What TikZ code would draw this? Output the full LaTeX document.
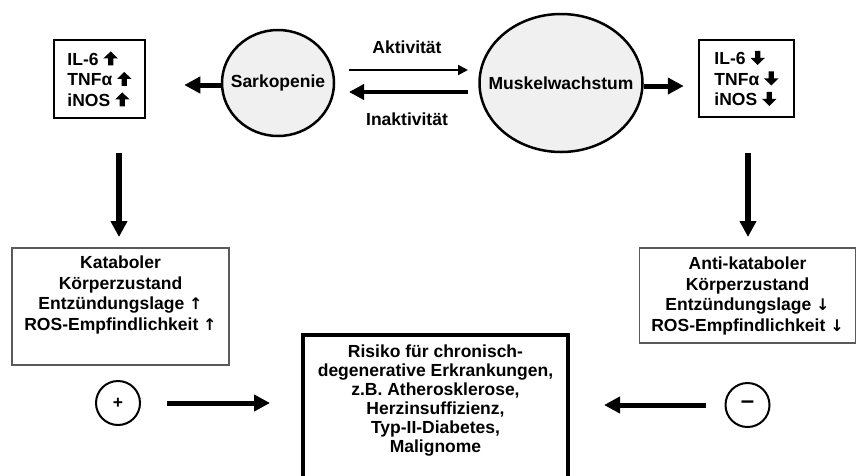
\documentclass[tikz,border=0pt]{standalone}
\usepackage{fontspec}
\setmainfont{Liberation Sans}
\newfontfamily\arrfont{DejaVu Sans}
\usetikzlibrary{shapes.geometric,arrows.meta}
\definecolor{fillgray}{HTML}{F0F0F0}
\definecolor{thingray}{HTML}{5A5A5A}
\newcommand{\blkup}{\tikz[baseline=0pt,x=1pt,y=1pt]\fill (-2.6,0) -- (-2.6,7) -- (-7.2,7) -- (0,14) -- (7.2,7) -- (2.6,7) -- (2.6,0) -- cycle;}
\newcommand{\blkdown}{\tikz[baseline=0pt,x=1pt,y=1pt]\fill (-2.6,14) -- (-2.6,7) -- (-7.2,7) -- (0,0) -- (7.2,7) -- (2.6,7) -- (2.6,14) -- cycle;}
\newcommand{\thinup}{{\arrfont\fontsize{16}{16}\selectfont ↑}}
\newcommand{\thindown}{{\arrfont\fontsize{16}{16}\selectfont ↓}}
\begin{document}
\begin{tikzpicture}[x=1pt,y=-1pt,
  every node/.style={font=\fontsize{17.5}{20.5}\selectfont\bfseries, inner sep=0pt},
  ell/.style={ellipse, draw, line width=2.5pt, fill=fillgray},
  smallbox/.style={draw, line width=2.5pt, align=left},
  thinbox/.style={draw=thingray, line width=1.3pt},
  bigarrow/.style={line width=5pt, -{Triangle[length=16pt,width=16pt]}},
  medarrow/.style={line width=4.5pt, -{Triangle[length=15pt,width=15pt]}},
  thinarrow/.style={line width=2pt, -{Triangle[length=10pt,width=10pt]}},
  signcircle/.style={circle, draw, line width=2pt, minimum size=44pt}
]
\useasboundingbox (0,0) rectangle (857,475);

% top row
\node[smallbox, minimum width=91pt, minimum height=78pt] (il1) at (99.5,79) {IL-6 \blkup\\TNFα \blkup\\iNOS \blkup};
\node[ell, minimum width=112pt, minimum height=106pt] (sark) at (278,83) {};
\node (sarktxt) at (sark.center) {Sarkopenie};
\node[ell, minimum width=163pt, minimum height=138pt] (musk) at (561,83) {};
\node (musktxt) at (musk.center) {Muskelwachstum};
\node[smallbox, minimum width=95pt, minimum height=77pt] (il2) at (746.5,78.5) {IL-6 \blkdown\\TNFα \blkdown\\iNOS \blkdown};

\node (akt) at (407,47) {Aktivität};
\node (inakt) at (407,119) {Inaktivität};

\coordinate (ak1) at (349,70);
\coordinate (ak2) at (468,70);
\coordinate (in1) at (468,92);
\coordinate (in2) at (349,92);
\draw[thinarrow] (ak1) -- (ak2);
\draw[medarrow] (in1) -- (in2);

\draw[bigarrow, shorten >=38pt] ([yshift=-2pt]sark.west) -- ([yshift=-2pt]sark.west -| il1.east);
\draw[bigarrow, shorten >=14pt] ([yshift=-3pt]musk.east) -- ([yshift=-3pt]musk.east -| il2.west);

% vertical arrows
\coordinate (v1a) at (119,153);
\coordinate (v1b) at (119,237);
\coordinate (v2a) at (748,153);
\coordinate (v2b) at (748,237);
\draw[bigarrow, line width=5.5pt] (v1a) -- (v1b);
\draw[bigarrow, line width=5.5pt] (v2a) -- (v2b);

% middle boxes
\node[thinbox, minimum width=217pt, minimum height=117pt] (katbox) at (120.5,306.5) {};
\node[align=center] (kat) at (120.5,295) {Kataboler\\Körperzustand\\Entzündungslage \thinup\\ROS-Empfindlichkeit \thinup};
\node[thinbox, minimum width=216pt, minimum height=95pt] (antibox) at (747.5,295.5) {};
\node[align=center] (anti) at (747.5,296) {Anti-kataboler\\Körperzustand\\Entzündungslage \thindown\\ROS-Empfindlichkeit \thindown};

% risk box
\node[draw, line width=4pt, minimum width=265pt, minimum height=170pt, anchor=north] (riskbox) at (435.5,333) {};
\node[align=center, font=\fontsize{17.5}{19}\selectfont\bfseries] (risk) at (435.5,400.5) {Risiko für chronisch-\\degenerative Erkrankungen,\\z.B. Atherosklerose,\\Herzinsuffizienz,\\Typ-II-Diabetes,\\Malignome};

% signs
\node[signcircle] (plus) at (118,403) {+};
\node[signcircle, font=\fontsize{24}{24}\selectfont\bfseries] (minus) at (747.5,405) {–};

\draw[bigarrow, shorten <=26pt, shorten >=31pt] (plus.east) -- (plus.east -| riskbox.west);
\draw[bigarrow, shorten <=19pt, shorten >=34pt] (minus.west) -- (minus.west -| riskbox.east);
\end{tikzpicture}
\end{document}
